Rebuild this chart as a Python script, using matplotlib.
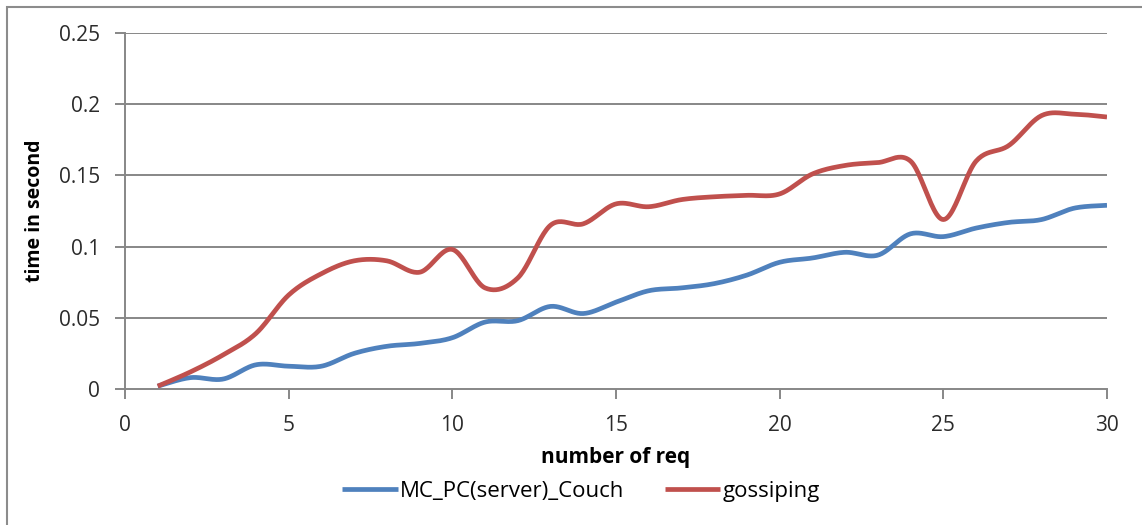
import numpy as np
import matplotlib
matplotlib.use("Agg")
import matplotlib.pyplot as plt
from matplotlib.patches import Rectangle

# Data: response time (s) versus number of requests
requests = list(range(1, 31))
mc_pc_couch = [0.002, 0.008, 0.007, 0.017, 0.016, 0.016, 0.025, 0.030, 0.032, 0.036,
               0.047, 0.048, 0.058, 0.053, 0.061, 0.069, 0.071, 0.074, 0.080, 0.089,
               0.092, 0.096, 0.094, 0.109, 0.107, 0.113, 0.117, 0.119, 0.127, 0.129]
gossiping = [0.002, 0.012, 0.024, 0.039, 0.066, 0.081, 0.090, 0.090, 0.082, 0.098,
             0.071, 0.078, 0.115, 0.116, 0.130, 0.128, 0.133, 0.135, 0.136, 0.137,
             0.151, 0.157, 0.159, 0.160, 0.119, 0.160, 0.171, 0.192, 0.193, 0.191]
series_names = ["MC_PC(server)_Couch", "gossiping"]
series_colors = ["#4F81BD", "#C0504D"]
x_ticks = [0, 5, 10, 15, 20, 25, 30]
y_ticks = [0, 0.05, 0.1, 0.15, 0.2, 0.25]
y_tick_labels = ["0", "0.05", "0.1", "0.15", "0.2", "0.25"]


def smooth(xs, ys, steps=24, tension=0.5):
    """Cardinal-spline smoothing between consecutive points (spreadsheet style)."""
    xs = np.asarray(xs, float)
    ys = np.asarray(ys, float)
    px = np.concatenate([[xs[0]], xs, [xs[-1]]])
    py = np.concatenate([[ys[0]], ys, [ys[-1]]])
    out_x, out_y = [], []
    t = np.linspace(0, 1, steps, endpoint=False)
    for i in range(1, len(px) - 2):
        p0, p1, p2, p3 = (np.array([px[j], py[j]]) for j in (i - 1, i, i + 1, i + 2))
        m1 = tension * (p2 - p0)
        m2 = tension * (p3 - p1)
        h00 = 2 * t**3 - 3 * t**2 + 1
        h10 = t**3 - 2 * t**2 + t
        h01 = -2 * t**3 + 3 * t**2
        h11 = t**3 - t**2
        seg = (np.outer(h00, p1) + np.outer(h10, m1) + np.outer(h01, p2) + np.outer(h11, m2))
        out_x.extend(seg[:, 0])
        out_y.extend(seg[:, 1])
    out_x.append(xs[-1])
    out_y.append(ys[-1])
    return np.array(out_x), np.array(out_y)


plt.rcParams["font.family"] = ["Open Sans", "DejaVu Sans"]

W, H = 1142, 525
fig = plt.figure(figsize=(W / 100, H / 100), dpi=100)
fig.patch.set_facecolor("white")

# Chart-area border (left and top edges visible)
fig.patches.append(Rectangle((7 / W, -0.2), 1.3, 1.2 - 7 / H,
                             transform=fig.transFigure, fill=False,
                             edgecolor="#8c8c8c", linewidth=1.5))

ax = fig.add_axes([125 / W, 1 - 389 / H, (1107 - 125) / W, (389 - 33) / H])
ax.set_xlim(0, 30)
ax.set_ylim(0, 0.25)

grid_color = "#878787"
for yv in y_ticks[1:]:
    ax.axhline(yv, color=grid_color, linewidth=1.4, zorder=1)

for ys, name, col in zip([mc_pc_couch, gossiping], series_names, series_colors):
    sx, sy = smooth(requests, ys)
    ax.plot(sx, sy, color=col, linewidth=3.4, solid_capstyle="butt",
            label=name, zorder=3)

for side in ("top", "right"):
    ax.spines[side].set_visible(False)
for side in ("left", "bottom"):
    ax.spines[side].set_color(grid_color)
    ax.spines[side].set_linewidth(1.4)

ax.set_xticks(x_ticks)
ax.set_xticklabels([str(v) for v in x_ticks])
ax.set_yticks(y_ticks)
ax.set_yticklabels(y_tick_labels)
ax.tick_params(axis="x", direction="out", length=7, width=1.4, color=grid_color,
               labelsize=15, pad=12, labelcolor="#2b2b2b")
ax.tick_params(axis="y", direction="out", length=7, width=1.4, color=grid_color,
               labelsize=15, pad=11, labelcolor="#2b2b2b")

ax.set_xlabel("number of req", fontsize=15, fontweight="bold", labelpad=8)
ax.set_ylabel("time in second", fontsize=14, fontweight="bold", labelpad=10)

fig.legend(loc="center", bbox_to_anchor=(581 / W, 1 - 491 / H), ncol=2, frameon=False,
           fontsize=16, handlelength=2.5, handletextpad=0.1, columnspacing=1.8)

fig.savefig("out.png", dpi=100, facecolor="white")
